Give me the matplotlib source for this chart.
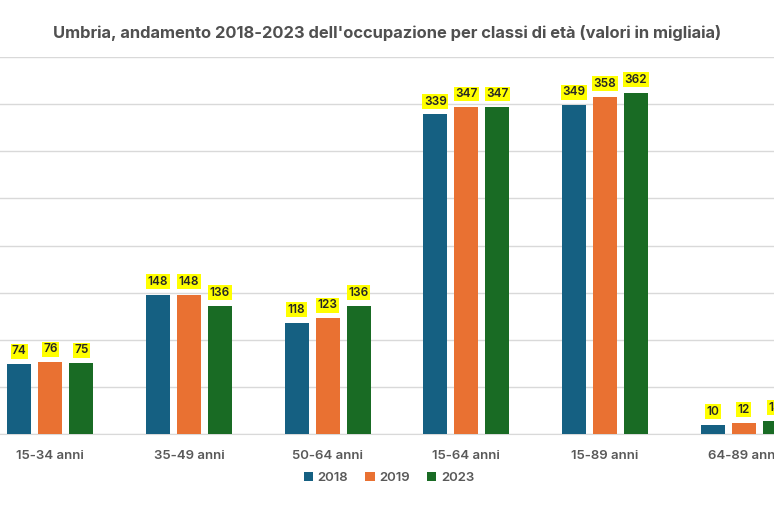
import matplotlib
matplotlib.use("Agg")
import matplotlib.pyplot as plt
import numpy as np

categories = ["15-34 anni", "35-49 anni", "50-64 anni", "15-64 anni", "15-89 anni", "64-89 anni"]
years = ["2018", "2019", "2023"]
v2018 = [74, 148, 118, 339, 349, 10]
v2019 = [76, 148, 123, 347, 358, 12]
v2023 = [75, 136, 136, 347, 362, 14]
series = [v2018, v2019, v2023]
colors = ["#156082", "#E97132", "#196B24"]

plt.rcParams['font.family'] = ['Inter', 'DejaVu Sans']

fig = plt.figure(figsize=(7.74, 5.16), dpi=100)
W, H = 774, 516
ax = fig.add_axes([-19 / W, (H - 434) / H, 832 / W, (434 - 57) / H])

x = np.arange(len(categories))
slot = 0.2235
bw = 0.173
for i, (vals, c, yr) in enumerate(zip(series, colors, years)):
    pos = x + (i - 1) * slot
    bars = ax.bar(pos, vals, width=bw, color=c, label=yr, zorder=3)
    for b, v in zip(bars, vals):
        ax.annotate(str(v), (b.get_x() + b.get_width() / 2, v), xytext=(0, 5),
                    textcoords="offset points", ha="center", va="bottom",
                    fontsize=8.5, fontweight="semibold", color="#262626",
                    bbox=dict(boxstyle="square,pad=0.12", fc="#FFFF00", ec="none"),
                    zorder=4)

ax.set_xlim(-0.5, len(categories) - 0.5)
ax.set_ylim(0, 400)
ax.set_yticks(np.arange(0, 401, 50))
ax.yaxis.grid(True, color="#D9D9D9", linewidth=1, zorder=0)
ax.tick_params(axis="y", left=False, labelleft=False)
ax.tick_params(axis="x", bottom=False, pad=8)
ax.set_xticks(x)
ax.set_xticklabels(categories, fontsize=9.5, fontweight="semibold", color="#595959")
for s in ["top", "right", "left"]:
    ax.spines[s].set_visible(False)
ax.spines["bottom"].set_color("#D9D9D9")

fig.text(387 / W, 1 - 33 / H, "Umbria, andamento 2018-2023 dell'occupazione per classi di età (valori in migliaia)",
         ha="center", va="center", fontsize=11.9, fontweight="bold", color="#505050")

fig.legend(loc="center", bbox_to_anchor=(389 / W, 1 - 478 / H), ncol=3, frameon=False,
           handlelength=0.7, handleheight=0.7, handletextpad=0.35, columnspacing=1.3,
           prop=dict(weight="semibold", size=9.5))
for t in fig.legends[0].get_texts():
    t.set_color("#595959")

fig.savefig("out.png", dpi=100)
